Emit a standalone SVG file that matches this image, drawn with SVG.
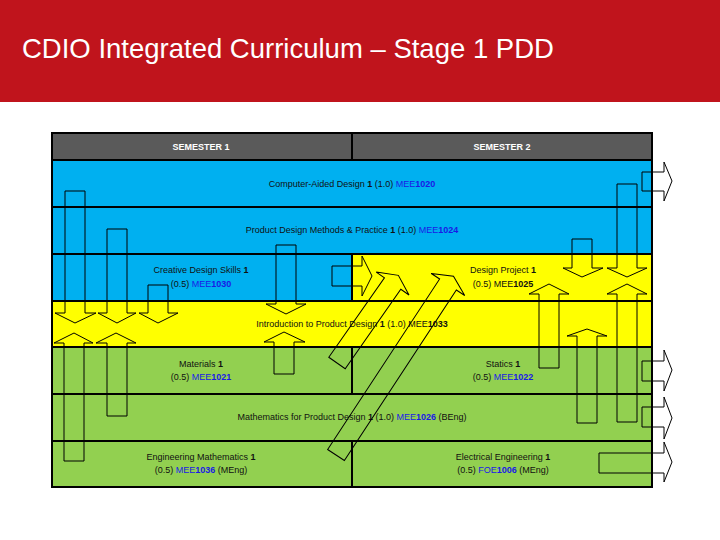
<svg xmlns="http://www.w3.org/2000/svg" width="720" height="540" viewBox="0 0 720 540">
<style>
.t{font-family:"Liberation Sans",Arial,sans-serif;font-size:9px;fill:#111;text-anchor:middle}
.h{font-family:"Liberation Sans",Arial,sans-serif;font-size:9px;fill:#fff;font-weight:bold;text-anchor:middle}
.c{fill:#1a1ae6}
.b{font-weight:bold}
.cell{stroke:#000;stroke-width:2}
.ar{fill:none;stroke:#000;stroke-width:1}
</style>
<rect x="0" y="0" width="720" height="540" fill="#fff"/>
<rect x="0" y="0" width="720" height="102" fill="#C0141C"/>
<text x="22" y="58" font-family="'Liberation Sans',Arial,sans-serif" font-size="27.5" fill="#fff">CDIO Integrated Curriculum – Stage 1 PDD</text>
<g id="header">
<rect class="cell" x="52" y="133" width="300" height="27" fill="#5a5a5a"/>
<rect class="cell" x="352" y="133" width="300" height="27" fill="#5a5a5a"/>
<text class="h" x="201" y="150">SEMESTER 1</text>
<text class="h" x="502" y="150">SEMESTER 2</text>
</g>
<g id="cad"><rect class="cell" x="52" y="160" width="600" height="47" fill="#00B0F0"/>
<text class="t" x="352" y="187">Computer-Aided Design <tspan class="b">1</tspan> (1.0) <tspan class="c">MEE<tspan class="b">1020</tspan></tspan></text></g>
<g id="pdm"><rect class="cell" x="52" y="207" width="600" height="47" fill="#00B0F0"/>
<text class="t" x="352" y="233">Product Design Methods &amp; Practice <tspan class="b">1</tspan> (1.0) <tspan class="c">MEE<tspan class="b">1024</tspan></tspan></text></g>
<g id="cds"><rect class="cell" x="52" y="254" width="300" height="47" fill="#00B0F0"/>
<text class="t" x="201" y="273">Creative Design Skills <tspan class="b">1</tspan></text>
<text class="t" x="201" y="287">(0.5) <tspan class="c">MEE<tspan class="b">1030</tspan></tspan></text></g>
<g id="dp"><rect class="cell" x="352" y="254" width="300" height="47" fill="#FFFF00"/>
<text class="t" x="503" y="273">Design Project <tspan class="b">1</tspan></text>
<text class="t" x="503" y="287">(0.5) MEE<tspan class="b">1025</tspan></text></g>
<g id="intro"><rect class="cell" x="52" y="301" width="600" height="46" fill="#FFFF00"/>
<text class="t" x="352" y="327">Introduction to Product Design <tspan class="b">1</tspan> (1.0) MEE<tspan class="b">1033</tspan></text></g>
<g id="mat"><rect class="cell" x="52" y="347" width="300" height="47" fill="#92D050"/>
<text class="t" x="201" y="367">Materials <tspan class="b">1</tspan></text>
<text class="t" x="201" y="380">(0.5) <tspan class="c">MEE<tspan class="b">1021</tspan></tspan></text></g>
<g id="stat"><rect class="cell" x="352" y="347" width="300" height="47" fill="#92D050"/>
<text class="t" x="503" y="367">Statics <tspan class="b">1</tspan></text>
<text class="t" x="503" y="380">(0.5) <tspan class="c">MEE<tspan class="b">1022</tspan></tspan></text></g>
<g id="math"><rect class="cell" x="52" y="394" width="600" height="47" fill="#92D050"/>
<text class="t" x="352" y="420">Mathematics for Product Design <tspan class="b">1</tspan> (1.0) <tspan class="c">MEE<tspan class="b">1026</tspan></tspan> (BEng)</text></g>
<g id="engm"><rect class="cell" x="52" y="441" width="300" height="46" fill="#92D050"/>
<text class="t" x="201" y="460">Engineering Mathematics <tspan class="b">1</tspan></text>
<text class="t" x="201" y="473">(0.5) <tspan class="c">MEE<tspan class="b">1036</tspan></tspan> (MEng)</text></g>
<g id="elec"><rect class="cell" x="352" y="441" width="300" height="46" fill="#92D050"/>
<text class="t" x="503" y="460">Electrical Engineering <tspan class="b">1</tspan></text>
<text class="t" x="503" y="473">(0.5) <tspan class="c">FOE<tspan class="b">1006</tspan></tspan> (MEng)</text></g>
<g id="connectors" class="ar">
<polygon points="65,191 85,191 85,313 96,313 75,323 55,313 65,313"/>
<polygon points="107,229 127,229 127,313 136,313 117,323 98,313 107,313"/>
<polygon points="148,285 168,285 168,313 178,313 158,323 139,313 148,313"/>
<polygon points="276,245 296,245 296,304 306,304 286,314 266,304 276,304"/>
<polygon points="572,239 592,239 592,268 603,268 582,277 563,268 572,268"/>
<polygon points="617,184 637,184 637,268 647,268 627,277 607,268 617,268"/>
<polygon points="64,461 84,461 84,343 93,343 74,333 54,343 64,343"/>
<polygon points="107,416 127,416 127,343 136,343 116,333 96,343 107,343"/>
<polygon points="274,374 294,374 294,342 305,342 284,332 264,342 274,342"/>
<polygon points="539,368 559,368 559,294 569,294 549,284 529,294 539,294"/>
<polygon points="617,422 637,422 637,294 647,294 627,284 607,294 617,294"/>
<polygon points="577,423 597,423 597,336 607,336 587,329 567,336 577,336"/>
<polygon points="332,266 362,266 362,256 372,276 362,296 362,286 332,286"/>
<polygon points="642,172 664,172 664,162 672,181 664,201 664,191 642,191"/>
<polygon points="642,361 664,361 664,350 672,370 664,391 664,381 642,381"/>
<polygon points="642,407 664,407 664,397 672,418 664,439 664,427 642,427"/>
<polygon points="599,453 664,453 664,442 672,462 664,482 664,473 599,473"/>
<polygon transform="translate(337,363) rotate(-55)" points="0,-10 97,-10 97,-20 107,0 97,20 97,10 0,10"/>
<polygon transform="translate(336,455) rotate(-56.7)" points="0,-10 204,-10 204,-20 214,0 204,20 204,10 0,10"/>
</g>
</svg>
